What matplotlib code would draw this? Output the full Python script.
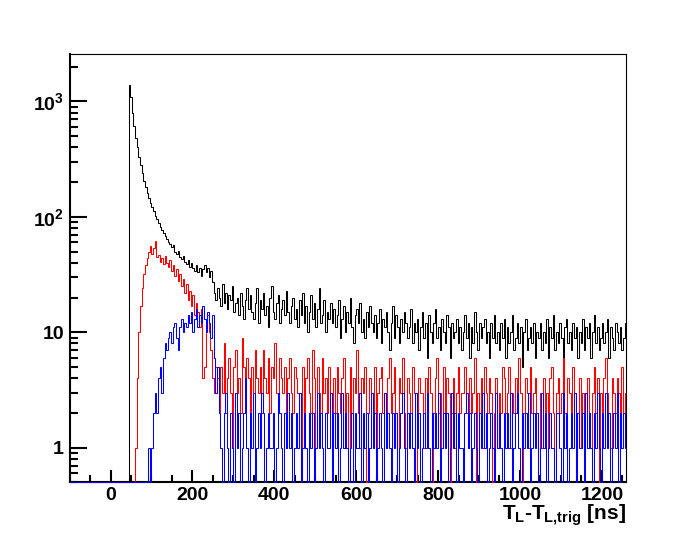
import numpy as np
import matplotlib
matplotlib.use('Agg')
import matplotlib.pyplot as plt
from matplotlib.ticker import FixedLocator, FixedFormatter, MultipleLocator, LogLocator, NullFormatter

plt.rcParams['font.family'] = ['Liberation Sans', 'DejaVu Sans']
plt.rcParams['mathtext.fontset'] = 'custom'
plt.rcParams['mathtext.rm'] = 'Liberation Sans:bold'
plt.rcParams['mathtext.it'] = 'Liberation Sans:bold'
plt.rcParams['mathtext.bf'] = 'Liberation Sans:bold'

# histogram binning: 4 ns bins over the full axis range
x_lo, x_hi, bin_w = -100, 1260, 4

# counts per bin, black histogram starts at 44 ns
black_start = 44
black = [1400, 1100, 800, 610, 480, 400, 330, 280, 240, 205, 180, 160, 145, 132, 122, 112, 102, 95, 88, 82, 77, 72, 68, 64, 61,
         58, 55, 57, 50, 48, 51, 45, 43, 46, 41, 39, 42, 37, 40, 36, 34, 38, 33, 36, 31, 35, 38, 33, 36, 30,
         34, 27, 22, 19, 24, 20, 17, 26, 18, 22, 16, 21, 19, 25, 15, 18, 20, 14, 22, 17, 13, 19, 24, 16, 21,
         15, 13, 18, 24, 12, 19, 16, 22, 14, 17, 11, 20, 25, 15, 13, 18, 21, 12, 16, 19, 14, 23, 15, 12, 17,
         20, 13, 16, 11, 19, 14, 22, 12, 17, 10, 15, 21, 13, 18, 11, 16, 24, 12, 14, 19, 10, 15, 13, 18, 12,
         16, 11, 14, 19, 9, 13, 17, 10, 15, 12, 20, 11, 8, 14, 16, 12, 18, 10, 13, 9, 15, 11, 17, 12, 10,
         14, 9, 12, 16, 8, 13, 11, 15, 10, 7, 12, 17, 9, 14, 11, 8, 13, 10, 15, 12, 9, 11, 16, 8, 12,
         10, 13, 7, 11, 15, 9, 12, 6, 14, 10, 8, 12, 16, 9, 11, 7, 13, 10, 8, 14, 11, 6, 12, 9, 10,
         13, 8, 11, 7, 10, 14, 9, 12, 6, 11, 8, 15, 10, 7, 12, 9, 11, 13, 8, 10, 6, 12, 9, 14, 8,
         10, 7, 12, 9, 13, 6, 11, 8, 10, 14, 7, 9, 12, 8, 11, 5, 10, 13, 7, 9, 11, 8, 12, 6, 10,
         9, 12, 7, 10, 8, 13, 6, 11, 9, 14, 7, 10, 8, 12, 9, 6, 11, 13, 8, 10, 7, 12, 9, 11, 6,
         10, 8, 13, 7, 11, 9, 12, 6, 10, 14, 8, 11, 7, 9, 12, 8, 10, 13, 6, 11, 9, 7, 12, 10, 8,
         11, 7, 9, 12]

red_start = 60
red = [1, 4, 10, 17, 24, 32, 38, 44, 50, 56, 48, 54, 62, 45, 47, 41, 44, 39, 46, 40, 37, 42, 34, 38, 31,
       35, 28, 32, 25, 29, 22, 26, 19, 23, 17, 21, 14, 18, 15, 11, 16, 4, 5, 12, 14, 10, 7, 4, 3, 5,
       4, 2, 5, 3, 8, 2, 4, 6, 3, 1, 5, 7, 3, 4, 2, 9, 5, 3, 6, 4, 2, 5, 3, 7, 4,
       3, 5, 2, 7, 4, 3, 6, 2, 5, 4, 8, 3, 2, 6, 4, 3, 5, 1, 4, 6, 3, 2, 5, 4, 3,
       3, 0, 5, 2, 4, 6, 3, 2, 7, 4, 1, 5, 3, 2, 6, 3, 4, 2, 5, 3, 1, 4, 2, 5, 3,
       2, 4, 6, 1, 3, 0, 5, 2, 4, 3, 7, 2, 1, 4, 3, 5, 0, 2, 4, 3, 2, 5, 1, 3, 4,
       5, 2, 3, 1, 4, 6, 2, 3, 5, 2, 0, 4, 3, 6, 2, 1, 4, 3, 2, 5, 3, 0, 2, 4, 3,
       3, 1, 4, 2, 5, 3, 0, 2, 4, 6, 2, 3, 1, 5, 2, 4, 3, 0, 2, 4, 1, 3, 5, 2, 3,
       3, 5, 2, 1, 4, 2, 3, 6, 0, 3, 2, 4, 1, 5, 3, 2, 4, 3, 0, 2, 4, 1, 3, 2, 5,
       4, 2, 3, 5, 1, 3, 2, 4, 2, 6, 3, 0, 2, 4, 3, 1, 5, 2, 3, 4, 2, 0, 3, 1, 4,
       2, 3, 1, 4, 5, 2, 0, 3, 4, 2, 3, 6, 2, 1, 4, 3, 2, 5, 3, 0, 2, 4, 1, 3, 2,
       3, 4, 2, 1, 3, 5, 2, 4, 0, 3, 2, 4, 6, 3, 2, 1, 4, 3, 2, 4, 3, 1, 5, 2, 3]

blue_start = 92
blue = [1, 0, 1, 2, 3, 2, 4, 5, 3, 6, 8, 7, 9, 10, 8, 11, 12, 9, 7, 11, 13, 10, 12, 11, 14,
        12, 15, 10, 13, 16, 11, 14, 12, 17, 13, 10, 15, 12, 9, 14, 6, 3, 5, 2, 1, 0, 2, 3, 1, 0,
        2, 1, 0, 3, 1, 2, 0, 1, 2, 4, 1, 0, 2, 1, 3, 0, 1, 2, 1, 3, 2, 0, 1, 2, 1,
        1, 2, 0, 1, 3, 2, 1, 0, 2, 1, 3, 1, 2, 0, 1, 2, 1, 3, 0, 1, 2, 1, 0, 2, 1,
        2, 0, 1, 3, 1, 2, 1, 0, 2, 1, 1, 3, 0, 2, 1, 2, 0, 1, 3, 1, 2, 1, 0, 1, 2,
        0, 2, 1, 1, 3, 0, 2, 1, 2, 0, 1, 3, 1, 2, 0, 1, 2, 1, 0, 3, 1, 2, 1, 0, 2,
        1, 2, 0, 1, 2, 3, 1, 0, 2, 1, 2, 1, 0, 3, 1, 2, 0, 1, 2, 1, 3, 1, 0, 2, 1,
        2, 1, 3, 0, 1, 2, 1, 2, 0, 1, 3, 1, 2, 0, 2, 1, 1, 0, 2, 3, 1, 2, 0, 1, 2,
        1, 0, 2, 1, 3, 1, 2, 0, 1, 2, 1, 0, 3, 1, 2, 1, 0, 2, 1, 2, 1, 3, 0, 1, 2,
        3, 1, 0, 2, 1, 2, 1, 3, 0, 1, 2, 1, 2, 0, 1, 3, 1, 2, 0, 1, 2, 1, 1, 0, 2,
        2, 1, 0, 3, 1, 2, 0, 1, 2, 1, 3, 0, 2, 1, 1, 2, 0, 3, 1, 2, 1, 0, 2, 1, 3,
        1, 0, 2, 1, 3, 1, 2, 0, 1, 2, 1, 3, 0, 2, 1, 2, 1]

y_ticks = [1, 10, 100, 1000]
y_ticklabels = ['1', '10', '$10^{2}$', '$10^{3}$']
y_lo, y_hi = 0.5, 2600

edges = np.arange(x_lo, x_hi + bin_w, bin_w)
nbins = len(edges) - 1


def full_hist(start, counts):
    h = np.zeros(nbins)
    i0 = (start - x_lo) // bin_w
    h[i0:i0 + len(counts)] = counts
    # empty bins are drawn on the bottom of the frame, like ROOT does
    return np.where(h > 0, h, y_lo)


fig = plt.figure(figsize=(6.96, 5.36), dpi=100)
ax = fig.add_axes([0.1, 0.1, 0.8, 0.8])
ax.set_yscale('log')

for start, counts, col in [(black_start, black, 'black'), (red_start, red, 'red'), (blue_start, blue, 'blue')]:
    ax.stairs(full_hist(start, counts), edges, color=col, lw=0.75, baseline=None, zorder=3, clip_on=False)

ax.set_xlim(x_lo, x_hi)
ax.set_ylim(y_lo, y_hi)

ax.yaxis.set_major_locator(FixedLocator(y_ticks))
ax.yaxis.set_major_formatter(FixedFormatter(y_ticklabels))
ax.yaxis.set_minor_locator(LogLocator(base=10, subs=np.arange(2, 10)))
ax.yaxis.set_minor_formatter(NullFormatter())
ax.xaxis.set_major_locator(MultipleLocator(200))
ax.xaxis.set_minor_locator(MultipleLocator(50))

ax.tick_params(which='both', direction='in', top=False, right=False, width=1.5)
ax.tick_params(axis='y', which='major', length=12, pad=4, labelsize=14)
ax.tick_params(axis='y', which='minor', length=6)
ax.tick_params(axis='x', which='major', length=9, pad=3, labelsize=14)
ax.tick_params(axis='x', which='minor', length=5)
for lab in ax.get_xticklabels() + ax.get_yticklabels():
    lab.set_fontweight('bold')

ax.spines['left'].set_linewidth(1.5)
ax.spines['bottom'].set_linewidth(1.5)
ax.spines['top'].set_linewidth(0.8)
ax.spines['right'].set_linewidth(0.8)

ax.text(1.0, -0.088, r'$T_{L}$-$T_{L{,}trig}$ [ns]', transform=ax.transAxes,
        ha='right', va='baseline', fontsize=15, fontweight='bold')

fig.savefig('out.png', dpi=100)
